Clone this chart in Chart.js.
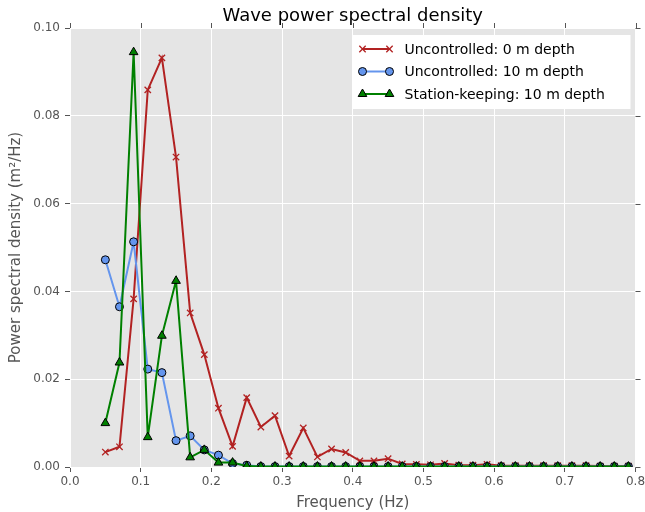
<!DOCTYPE html>
<html>
<head>
<meta charset="utf-8">
<script src="https://cdn.jsdelivr.net/npm/chart.js@4/dist/chart.umd.min.js"></script>
<style>
    html, body { margin: 0; padding: 0; background: #fff; }
    #wrap { width: 645px; height: 512px; }
</style>
</head>
<body>
<div id="wrap"><canvas id="psdChart" width="645" height="512"></canvas></div>
<script>
// 주파수 (Hz)
const frequencies = [
    0.05, 0.07, 0.09, 0.11, 0.13, 0.15, 0.17, 0.19, 0.21, 0.23,
    0.25, 0.27, 0.29, 0.31, 0.33, 0.35, 0.37, 0.39, 0.41, 0.43,
    0.45, 0.47, 0.49, 0.51, 0.53, 0.55, 0.57, 0.59, 0.61, 0.63,
    0.65, 0.67, 0.69, 0.71, 0.73, 0.75, 0.77, 0.79,
];

// Uncontrolled: 0 m depth
const uncontrolledSurface = [
    0.0034, 0.0046, 0.0383, 0.0859, 0.0932, 0.0706, 0.0351, 0.0256, 0.0134, 0.0047,
    0.0158, 0.0091, 0.0117, 0.0025, 0.0089, 0.0023, 0.0041, 0.0033, 0.0014, 0.0014,
    0.0019, 0.0007, 0.0006, 0.0005, 0.0008, 0.0004, 0.0004, 0.0006, 0.0003, 0.0003,
    0.0003, 0.0003, 0.0003, 0.0003, 0.0003, 0.0002, 0.0002, 0.0002,
];

// Uncontrolled: 10 m depth
const uncontrolledDeep = [
    0.0472, 0.0365, 0.0513, 0.0223, 0.0215, 0.0060, 0.0071, 0.0039, 0.0027, 0.0008,
    0.0004, 0.0001, 0.0001, 0.0001, 0.0001, 0.0001, 0.0001, 0.0001, 0.0001, 0.0001,
    0.0001, 0.0001, 0.0001, 0.0001, 0.0001, 0.0001, 0.0001, 0.0001, 0.0001, 0.0001,
    0.0001, 0.0001, 0.0001, 0.0001, 0.0001, 0.0001, 0.0001, 0.0001,
];

// Station-keeping: 10 m depth
const stationKeeping = [
    0.0100, 0.0238, 0.0945, 0.0068, 0.0299, 0.0424, 0.0022, 0.0039, 0.0010, 0.0010,
    0.0002, 0.0001, 0.0001, 0.0001, 0.0001, 0.0001, 0.0001, 0.0001, 0.0001, 0.0001,
    0.0001, 0.0001, 0.0001, 0.0001, 0.0001, 0.0001, 0.0001, 0.0001, 0.0001, 0.0001,
    0.0001, 0.0001, 0.0001, 0.0001, 0.0001, 0.0001, 0.0001, 0.0001,
];

const seriesLabels = ['Uncontrolled: 0 m depth', 'Uncontrolled: 10 m depth', 'Station-keeping: 10 m depth'];
const xTicks = [0.0, 0.1, 0.2, 0.3, 0.4, 0.5, 0.6, 0.7, 0.8];
const yTicks = [0.00, 0.02, 0.04, 0.06, 0.08, 0.10];

const FONT = "'DejaVu Sans', sans-serif";
const TICK_GREY = '#555555';

const toPoints = (values) => frequencies.map((f, i) => ({ x: f, y: values[i] }));

const datasets = [
    {
        label: seriesLabels[0],
        data: toPoints(uncontrolledSurface),
        borderColor: '#B22222',
        backgroundColor: '#B22222',
        borderWidth: 2,
        pointStyle: 'crossRot',
        pointRadius: 4.5,
        pointBorderWidth: 1.3,
        pointBorderColor: '#B22222',
        order: 3,
    },
    {
        label: seriesLabels[1],
        data: toPoints(uncontrolledDeep),
        borderColor: '#6495ED',
        backgroundColor: '#6495ED',
        borderWidth: 2,
        pointStyle: 'circle',
        pointRadius: 4,
        pointBorderWidth: 1,
        pointBorderColor: '#000000',
        pointBackgroundColor: '#6495ED',
        order: 2,
    },
    {
        label: seriesLabels[2],
        data: toPoints(stationKeeping),
        borderColor: '#008000',
        backgroundColor: '#008000',
        borderWidth: 2,
        pointStyle: 'triangle',
        pointRadius: 5,
        pointBorderWidth: 1,
        pointBorderColor: '#000000',
        pointBackgroundColor: '#008000',
        order: 1,
    },
];
datasets.forEach((ds) => { ds.clip = 0; ds.tension = 0; });

// 배경, 위/오른쪽 눈금, 제목, 범례를 그리는 플러그인
const ggplotDecor = {
    id: 'ggplotDecor',
    beforeDraw(chart) {
        const { ctx, chartArea: a } = chart;
        ctx.save();
        ctx.fillStyle = '#E5E5E5';
        ctx.fillRect(a.left, a.top, a.right - a.left, a.bottom - a.top);
        ctx.restore();
    },
    afterDraw(chart) {
        const { ctx, chartArea: a, scales } = chart;
        ctx.save();
        // 위쪽, 오른쪽 눈금
        ctx.strokeStyle = TICK_GREY;
        ctx.lineWidth = 1;
        ctx.beginPath();
        xTicks.forEach((v) => {
            const px = Math.round(scales.x.getPixelForValue(v)) + 0.5;
            ctx.moveTo(px, a.top);
            ctx.lineTo(px, a.top - 5);
        });
        yTicks.forEach((v) => {
            const py = Math.round(scales.y.getPixelForValue(v)) + 0.5;
            ctx.moveTo(a.right, py);
            ctx.lineTo(a.right + 5, py);
        });
        ctx.stroke();

        // 제목
        ctx.fillStyle = '#000';
        ctx.font = `18px ${FONT}`;
        ctx.textAlign = 'center';
        ctx.textBaseline = 'middle';
        ctx.fillText('Wave power spectral density', (a.left + a.right) / 2, 16);

        // 범례
        const boxW = 278, boxH = 74;
        const boxX = a.right - 5 - boxW, boxY = a.top + 7;
        ctx.fillStyle = '#FFFFFF';
        ctx.fillRect(boxX, boxY, boxW, boxH);
        ctx.font = `14px ${FONT}`;
        ctx.textAlign = 'left';
        chart.data.datasets.forEach((ds, i) => {
            const ly = boxY + 14 + i * 22.5;
            const x1 = boxX + 10, x2 = boxX + 37;
            ctx.strokeStyle = ds.borderColor;
            ctx.lineWidth = ds.borderWidth;
            ctx.beginPath();
            ctx.moveTo(x1, ly);
            ctx.lineTo(x2, ly);
            ctx.stroke();
            ctx.fillStyle = ds.pointBackgroundColor || ds.backgroundColor;
            ctx.strokeStyle = ds.pointBorderColor;
            ctx.lineWidth = ds.pointBorderWidth;
            const opts = { pointStyle: ds.pointStyle, radius: ds.pointRadius, rotation: 0, borderWidth: ds.pointBorderWidth };
            Chart.helpers.drawPoint(ctx, opts, x1, ly);
            Chart.helpers.drawPoint(ctx, opts, x2, ly);
            ctx.fillStyle = '#000';
            ctx.fillText(ds.label, boxX + 52, ly + 1);
        });
        ctx.restore();
    },
};

new Chart(document.getElementById('psdChart').getContext('2d'), {
    type: 'line',
    data: { datasets },
    options: {
        responsive: false,
        animation: false,
        events: [],
        layout: { padding: { top: 28, right: 9.5, left: 0, bottom: 0 } },
        plugins: {
            legend: { display: false },
            title: { display: false },
            tooltip: { enabled: false },
        },
        scales: {
            x: {
                type: 'linear',
                min: 0,
                max: 0.8,
                afterFit: (scale) => {
                    scale.height = 45;
                    scale.paddingLeft = 0;
                    scale.paddingRight = 0;
                },
                afterBuildTicks: (scale) => { scale.ticks = xTicks.map((v) => ({ value: v })); },
                ticks: {
                    color: TICK_GREY,
                    font: { family: FONT, size: 12 },
                    padding: 3,
                    maxRotation: 0,
                    callback: (v) => Number(v).toFixed(1),
                },
                grid: { color: '#FFFFFF', lineWidth: 1, tickColor: TICK_GREY, tickLength: 5 },
                border: { display: false },
                title: {
                    display: true,
                    text: 'Frequency (Hz)',
                    color: TICK_GREY,
                    font: { family: FONT, size: 15 },
                    padding: { top: 0, bottom: 0 },
                },
            },
            y: {
                min: 0,
                max: 0.1,
                afterFit: (scale) => { scale.width = 70; },
                afterBuildTicks: (scale) => { scale.ticks = yTicks.map((v) => ({ value: v })); },
                ticks: {
                    color: TICK_GREY,
                    font: { family: FONT, size: 12 },
                    padding: 5,
                    callback: (v) => Number(v).toFixed(2),
                },
                grid: { color: '#FFFFFF', lineWidth: 1, tickColor: TICK_GREY, tickLength: 5 },
                border: { display: false },
                title: {
                    display: true,
                    text: 'Power spectral density (m²/Hz)',
                    color: TICK_GREY,
                    font: { family: FONT, size: 15 },
                    padding: { top: 7, bottom: 0 },
                },
            },
        },
    },
    plugins: [ggplotDecor],
});
</script>
</body>
</html>
